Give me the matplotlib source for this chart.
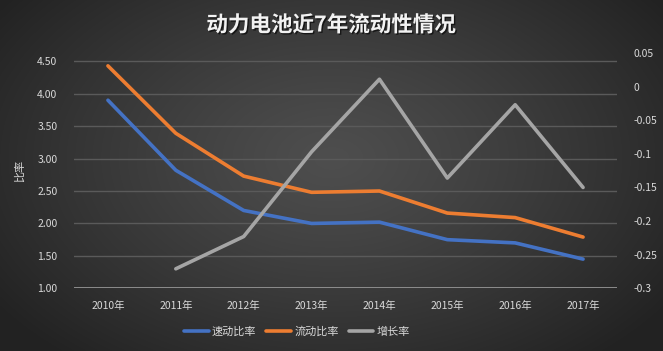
import numpy as np
import matplotlib
matplotlib.use("Agg")
import matplotlib.pyplot as plt
import matplotlib.patheffects as pe

plt.rcParams['font.family'] = ['Noto Sans CJK SC', 'DejaVu Sans']

years = ['2010年', '2011年', '2012年', '2013年', '2014年', '2015年', '2016年', '2017年']
quick_ratio = [3.90, 2.82, 2.20, 2.00, 2.02, 1.75, 1.70, 1.45]
current_ratio = [4.43, 3.39, 2.73, 2.48, 2.50, 2.16, 2.09, 1.79]
growth = [np.nan, -0.271, -0.223, -0.097, 0.011, -0.136, -0.027, -0.150]
left_ticks = [1.00, 1.50, 2.00, 2.50, 3.00, 3.50, 4.00, 4.50]
right_ticks = [-0.3, -0.25, -0.2, -0.15, -0.1, -0.05, 0, 0.05]

W, H = 663, 351
fig = plt.figure(figsize=(W / 100, H / 100), dpi=100)

# radial gradient background
bg = fig.add_axes([0, 0, 1, 1])
yy, xx = np.mgrid[0:H, 0:W]
r = np.sqrt(((xx - W * 0.5) / (W * 0.62)) ** 2 + ((yy - H * 0.45) / (H * 0.75)) ** 2)
r = np.clip(r, 0, 1)
c0, c1 = 0x4e / 255, 0x22 / 255
v = c0 + (c1 - c0) * r ** 1.2
img = np.dstack([v, v, v])
bg.imshow(img, aspect='auto', extent=[0, 1, 0, 1], origin='upper')
bg.set_axis_off()

left, right, bottom, top = 74 / W, 617 / W, 1 - 288.3 / H, 1 - 53 / H
ax = fig.add_axes([left, bottom, right - left, top - bottom])
ax.patch.set_alpha(0)
x = np.arange(len(years))

ax.set_xlim(-0.5, len(years) - 0.5)
ax.set_ylim(1.0, 4.5 + 8.3 / 64.9)
ax.set_yticks(left_ticks)
ax.set_yticklabels([f'{t:.2f}' for t in left_ticks])
ax.grid(axis='y', color='#5a5a5a', linewidth=1)
ax.set_axisbelow(True)
for s in ax.spines.values():
    s.set_visible(False)
ax.axhline(1.0, color='#9a9a9a', linewidth=1.2, zorder=1)
ax.tick_params(axis='both', length=0, colors='#d9d9d9', labelsize=7.5)
ax.tick_params(axis='y', pad=12)
ax.tick_params(axis='x', pad=9)
ax.set_xticks(x)
ax.set_xticklabels(years)
ax.set_ylabel('比率', color='#d9d9d9', fontsize=8)
ax.yaxis.set_label_coords((25 - 74) / 543, 0.5)

l1, = ax.plot(x, quick_ratio, color='#4472C4', linewidth=2.6, label='速动比率',
              solid_capstyle='round', zorder=3)
l2, = ax.plot(x, current_ratio, color='#ED7D31', linewidth=2.6, label='流动比率',
              solid_capstyle='round', zorder=3)

ax2 = ax.twinx()
ax2.set_ylim(-0.3, 0.05)
ax2.set_yticks(right_ticks)
ax2.set_yticklabels(['-0.3', '-0.25', '-0.2', '-0.15', '-0.1', '-0.05', '0', '0.05'])
for s in ax2.spines.values():
    s.set_visible(False)
ax2.tick_params(axis='y', length=0, colors='#d9d9d9', labelsize=7.5, pad=12)
l3, = ax2.plot(x, growth, color='#A5A5A5', linewidth=2.6, label='增长率',
               solid_capstyle='round', zorder=3)

fig.text(331 / W, 1 - 25 / H, '动力电池近7年流动性情况', ha='center', va='center',
         fontsize=15.5, fontweight='bold', color='#f2f2f2',
         path_effects=[pe.withSimplePatchShadow(offset=(1, -1), shadow_rgbFace='black', alpha=0.6)])

fig.legend(handles=[l1, l2, l3], loc='center', bbox_to_anchor=(297 / W, 1 - 332 / H),
           ncol=3, frameon=False, fontsize=8, labelcolor='#d9d9d9',
           handlelength=2.2, handletextpad=0.3, columnspacing=0.9)

fig.savefig('out.png', dpi=100)
